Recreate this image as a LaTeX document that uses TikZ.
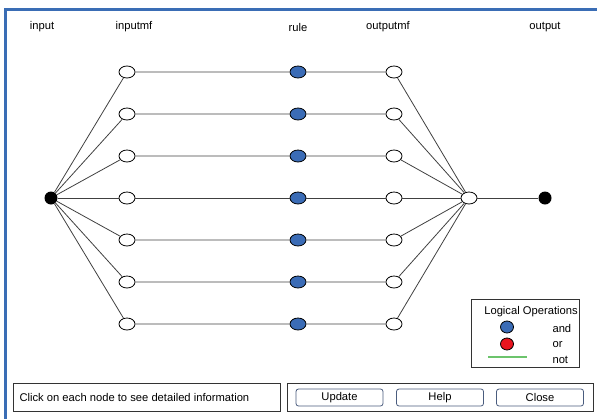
\documentclass[tikz,border=0pt]{standalone}
\usepackage{fontspec}
\setmainfont{Liberation Sans}
\usetikzlibrary{shapes.geometric}
\definecolor{frameblue}{HTML}{3A6DB5}
\definecolor{andblue}{HTML}{3B6CB6}
\definecolor{orred}{HTML}{E8141E}
\definecolor{notgreen}{HTML}{6CC46C}
\definecolor{btnedge}{HTML}{4A5C7E}

\begin{document}
\begin{tikzpicture}[x=1pt, y=-1pt, font=\fontsize{11.2}{13}\selectfont,
  mf/.style={draw=black, line width=0.8pt, ellipse, fill=white,
             minimum width=16pt, minimum height=12pt, inner sep=0pt},
  rulenode/.style={mf, fill=andblue},
  term/.style={circle, fill=black, minimum size=13pt, inner sep=0pt},
  link/.style={draw=black!75, line width=0.8pt},
  panel/.style={draw=black!80, line width=0.8pt, fill=white},
  btn/.style={draw=btnedge, line width=0.8pt, rounded corners=2.5pt, fill=white,
              minimum width=87pt, minimum height=17pt, inner sep=0pt},
]
\useasboundingbox (0,0) rectangle (597,418);
\draw[frameblue, line width=3pt] (5,420) -- (5,9) -- (597,9);

% column titles
\node (tin) at (42,27) {input};
\node (timf) at (134,27) {inputmf};
\node (trule) at (298,27) {rule};
\node (tomf) at (388,27) {outputmf};
\node (tout) at (545,27) {output};

% network
\node[term] (in) at (51,198) {};
\node[mf] (merge) at (469,198) {};
\node[term] (out) at (545,198) {};
\foreach \i in {1,...,7} {
  \node[mf] (imf\i) at (127,30+42*\i) {};
  \node[rulenode] (rule\i) at (298,30+42*\i) {};
  \node[mf] (omf\i) at (394,30+42*\i) {};
  \draw[link] (in) -- (imf\i) -- (rule\i) -- (omf\i) -- (merge);
}
\draw[link] (merge) -- (out);

% legend
\node[panel, minimum width=108pt, minimum height=68pt] (legend) at (525,333) {};
\node (legtitle) at (531,312) {Logical Operations};
\node[ellipse, draw=black, line width=0.8pt, fill=andblue,
      minimum width=13pt, minimum height=12pt] (andkey) at (507,327) {};
\node[ellipse, draw=black, line width=0.8pt, fill=orred,
      minimum width=13pt, minimum height=12pt] (orkey) at (507,344) {};
\coordinate (notA) at (488,357);
\coordinate (notB) at (527,357);
\draw[notgreen, line width=1.1pt] (notA) -- (notB);
\node[anchor=west] (andlbl) at (549,328) {and};
\node[anchor=west] (orlbl) at (549,345) {or};
\node[anchor=west] (notlbl) at (549,360) {not};

% status line and buttons
\node[panel, anchor=north west, minimum width=267pt, minimum height=28pt] (status) at (13,383) {};
\node[anchor=west] (statustxt) at (16,397) {Click on each node to see detailed information};
\node[panel, anchor=north west, minimum width=306pt, minimum height=28pt] (btnpanel) at (287,383) {};
\node[btn] (update) at (339.5,397.5) {Update};
\node[btn] (help) at (440,397.5) {Help};
\node[btn] (close) at (540,397.5) {Close};
\end{tikzpicture}
\end{document}
